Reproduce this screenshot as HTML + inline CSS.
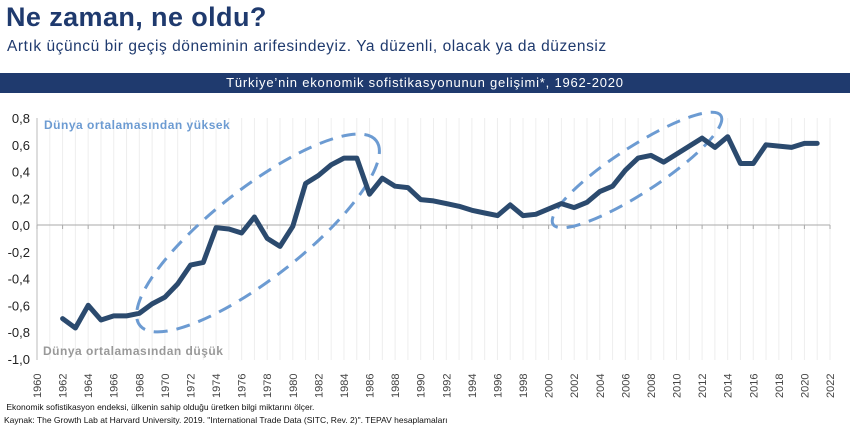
<!DOCTYPE html>
<html><head><meta charset="utf-8"><style>
body{margin:0;width:850px;height:432px;background:#fff;font-family:"Liberation Sans",sans-serif;overflow:hidden;position:relative}
.t{position:absolute;left:6px;top:2px;font-size:27px;font-weight:bold;color:#1f3a6e;letter-spacing:0.4px}
.s{position:absolute;left:7px;top:38px;font-size:15.5px;color:#1f3a6e;letter-spacing:0.55px}
.band{position:absolute;left:0;top:73px;width:850px;height:20px;background:#1f3a6e;color:#fff;font-size:13px;text-align:center;line-height:20px;letter-spacing:0.8px}
.f{position:absolute;left:4px;font-size:8.5px;color:#111}
</style></head><body>
<div class="t">Ne zaman, ne oldu?</div>
<div class="s">Artık üçüncü bir geçiş döneminin arifesindeyiz. Ya düzenli, olacak ya da düzensiz</div>
<div class="band">Türkiye’nin ekonomik sofistikasyonunun gelişimi*, 1962-2020</div>
<svg id="c" width="850" height="432" style="position:absolute;left:0;top:0"></svg>
<div class="f" style="top:402px">&nbsp;Ekonomik sofistikasyon endeksi, ülkenin sahip olduğu üretken bilgi miktarını ölçer.</div>
<div class="f" style="top:415px">Kaynak: The Growth Lab at Harvard University. 2019. "International Trade Data (SITC, Rev. 2)". TEPAV hesaplamaları</div>
<script>
const years=[1962,1963,1964,1965,1966,1967,1968,1969,1970,1971,1972,1973,1974,1975,1976,1977,1978,1979,1980,1981,1982,1983,1984,1985,1986,1987,1988,1989,1990,1991,1992,1993,1994,1995,1996,1997,1998,1999,2000,2001,2002,2003,2004,2005,2006,2007,2008,2009,2010,2011,2012,2013,2014,2015,2016,2017,2018,2019,2020,2021];
const values=[-0.70,-0.77,-0.60,-0.71,-0.68,-0.68,-0.66,-0.59,-0.54,-0.44,-0.30,-0.28,-0.02,-0.03,-0.06,0.06,-0.10,-0.16,-0.01,0.31,0.37,0.45,0.50,0.50,0.23,0.35,0.29,0.28,0.19,0.18,0.16,0.14,0.11,0.09,0.07,0.15,0.07,0.08,0.12,0.16,0.13,0.17,0.25,0.29,0.41,0.50,0.52,0.47,0.53,0.59,0.65,0.58,0.66,0.46,0.46,0.60,0.59,0.58,0.61,0.61];
const yTicks=[0.8,0.6,0.4,0.2,0,-0.2,-0.4,-0.6,-0.8,-1.0];
const xTicks=[];for(let y=1960;y<=2022;y+=2)xTicks.push(y);
const svg=document.getElementById('c');const NS='http://www.w3.org/2000/svg';
const X=y=>37+(y-1960)*(830-37)/62;
const Y=v=>225-v*(225-118)/0.8;
function el(t,a,p){const e=document.createElementNS(NS,t);for(const k in a)e.setAttribute(k,a[k]);(p||svg).appendChild(e);return e;}
for(let y=1961;y<=2022;y++){const g=el('line',{x1:X(y),x2:X(y),y1:118,y2:360,stroke:'#eee','stroke-width':1});}
el('line',{x1:X(1960),x2:X(1960),y1:118,y2:360,stroke:'#bbb'});
const z=el('line',{x1:X(1960),x2:X(2022),y1:Y(0),y2:Y(0),stroke:'#aaa'});
yTicks.forEach(v=>{const t=el('text',{x:30,y:Y(v)+5,'text-anchor':'end','font-size':13,fill:'#222'});t.textContent=v.toFixed(1).replace('.',',');});
xTicks.forEach(y=>{el('line',{x1:X(y),x2:X(y),y1:Y(0),y2:Y(0)+4,stroke:'#aaa'});const t=el('text',{transform:`translate(${X(y)+4},${398}) rotate(-90)`,'font-size':11,fill:'#444'});t.textContent=y;});
const e1=el('ellipse',{cx:258,cy:233,rx:150,ry:45,transform:'rotate(-38 258 233)',fill:'none',stroke:'#6c9bd2','stroke-width':3,'stroke-dasharray':'14 9'});
const e2=el('ellipse',{cx:637,cy:170,rx:100,ry:23,transform:'rotate(-33 637 170)',fill:'none',stroke:'#6c9bd2','stroke-width':3,'stroke-dasharray':'14 9'});
const d=years.map((y,i)=>(i?'L':'M')+X(y).toFixed(1)+','+Y(values[i]).toFixed(1)).join('');
const ln=el('path',{d:d,fill:'none',stroke:'#2b4a6e','stroke-width':5,'stroke-linejoin':'round','stroke-linecap':'round'});
const a=el('text',{x:44,y:129,'font-size':12,'font-weight':'bold',fill:'#6c9bd2','letter-spacing':'0.5'});a.textContent='Dünya ortalamasından yüksek';
const b=el('text',{x:43,y:355,'font-size':12,'font-weight':'bold',fill:'#999','letter-spacing':'0.5'});b.textContent='Dünya ortalamasından düşük';
</script>
</body></html>
